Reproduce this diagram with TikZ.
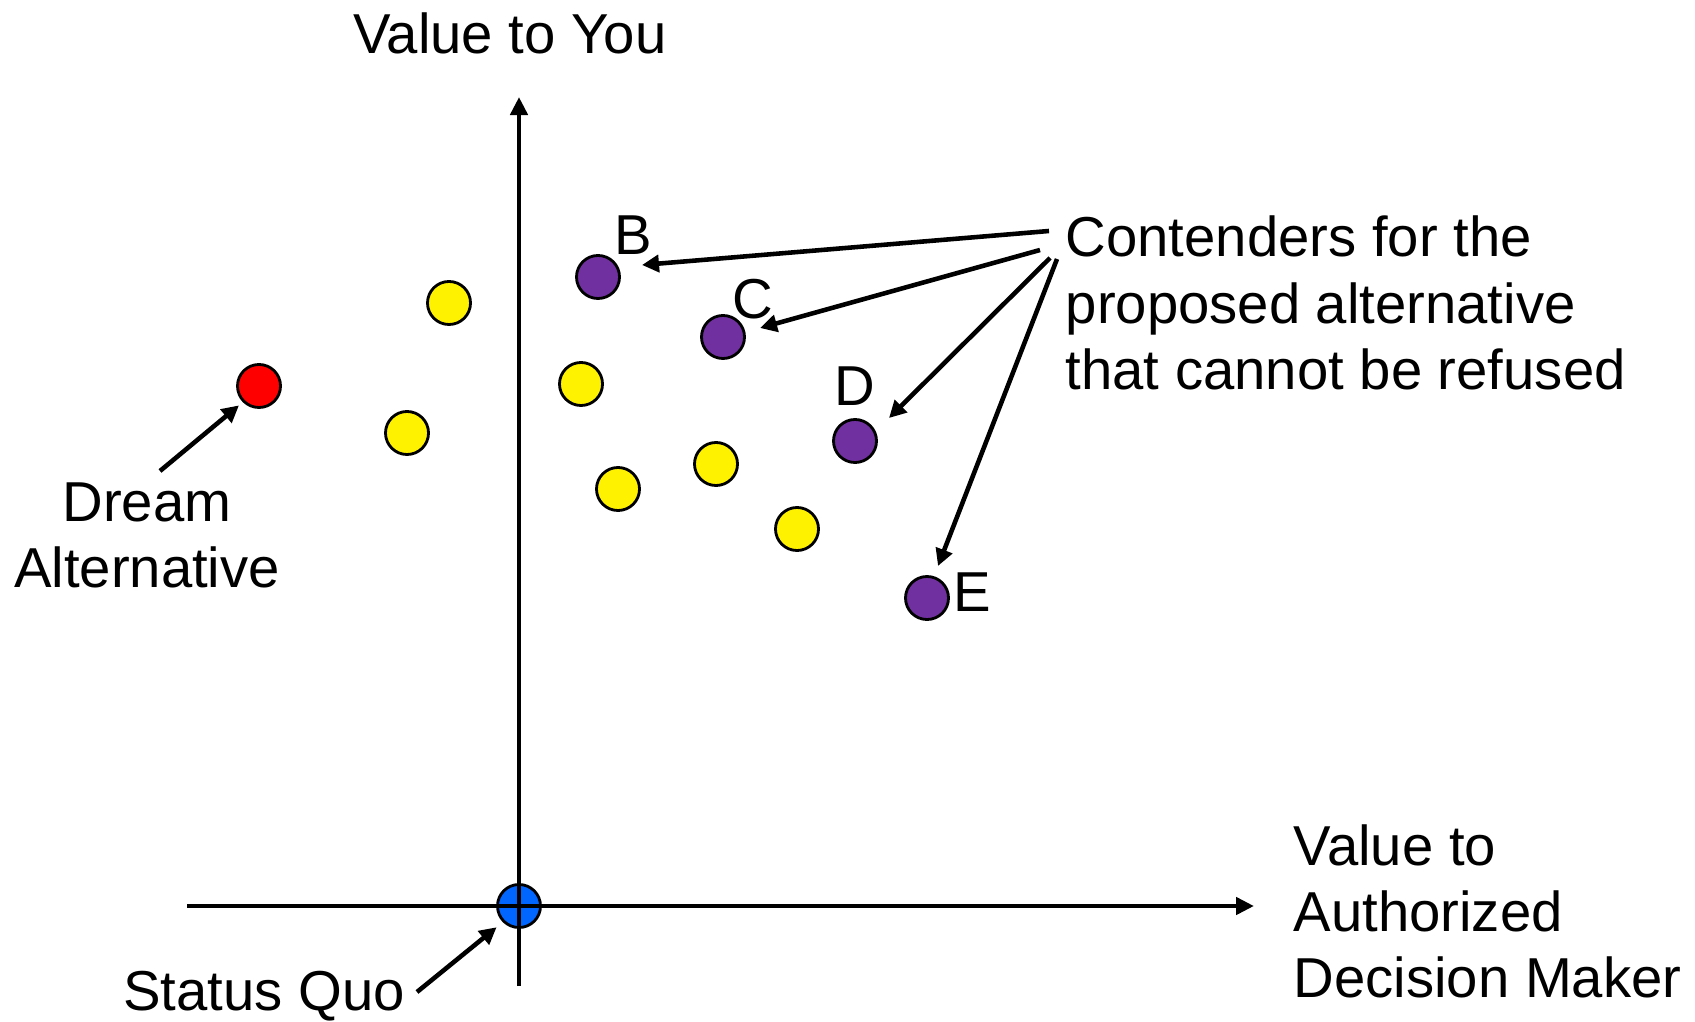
\documentclass[tikz,border=0pt]{standalone}
\usepackage{fontspec}
\setmainfont{Liberation Sans}
\usetikzlibrary{arrows.meta}

\definecolor{dotpurple}{RGB}{112,48,160}
\definecolor{dotblue}{RGB}{0,102,255}

\begin{document}
\begin{tikzpicture}[x=0.01cm, y=-0.01cm,
  dot/.style={circle, draw, line width=0.8pt, minimum size=0.43cm, inner sep=0pt},
  lbl/.style={inner sep=0pt, font=\fontsize{16}{18.8}\selectfont},
  ptr/.style={-{Triangle[length=0.17cm, width=0.17cm]}, line width=1.3pt},
  axis/.style={-{Triangle[length=0.18cm, width=0.17cm]}, line width=1.4pt}
]
  \useasboundingbox (0,0) rectangle (1695,1022);

  % status quo first, the axes run over it
  \node[dot, fill=dotblue] (sq) at (519,906) {};
  \coordinate (xl) at (187,906);
  \coordinate (xr) at (1254,906);
  \coordinate (yb) at (519,986);
  \coordinate (yt) at (519,97);
  \draw[axis] (xl) -- (xr);
  \draw[axis] (yb) -- (yt);

  % alternatives
  \node[dot, fill=red]       (dream) at (259,386) {};
  \node[dot, fill=yellow]    (y1) at (449,303) {};
  \node[dot, fill=yellow]    (y2) at (407,433) {};
  \node[dot, fill=yellow]    (y3) at (581,384) {};
  \node[dot, fill=yellow]    (y4) at (618,489) {};
  \node[dot, fill=yellow]    (y5) at (716,464) {};
  \node[dot, fill=yellow]    (y6) at (797,529) {};
  \node[dot, fill=dotpurple] (b) at (598,277) {};
  \node[dot, fill=dotpurple] (c) at (723,337) {};
  \node[dot, fill=dotpurple] (d) at (855,441) {};
  \node[dot, fill=dotpurple] (e) at (927,598) {};

  % letters
  \node[lbl] (lb) at (633,235) {B};
  \node[lbl] (lc) at (753,299) {C};
  \node[lbl] (ld) at (855,386) {D};
  \node[lbl] (le) at (972,592) {E};

  % texts
  \node[lbl] (ylab) at (510,33) {Value to You};
  \node[lbl, align=left, anchor=west] (xlab) at (1293,911)
    {Value to\\Authorized\\Decision Maker};
  \node[lbl, align=center] (dreamlab) at (147,535) {Dream\\Alternative};
  \node[lbl] (sqlab) at (264,996) {Status Quo};
  \node[lbl, align=left, anchor=west] (cont) at (1065,303)
    {Contenders for the\\proposed alternative\\that cannot be refused};

  % pointers
  \coordinate (dtail) at (160,471);
  \coordinate (stail) at (417,992);
  \draw[ptr, shorten >=0.05cm] (dtail) -- (dream.225);
  \draw[ptr, shorten >=0.08cm] (stail) -- (sq.225);

  \coordinate (tb) at (1049,231);
  \coordinate (tc) at (1040,250);
  \coordinate (td) at (1050,258);
  \coordinate (te) at (1057,259);
  \coordinate (hb) at (642,265);
  \coordinate (hc) at (760,328);
  \coordinate (hd) at (889,418);
  \coordinate (he) at (938,566);
  \draw[ptr] (tb) -- (hb);
  \draw[ptr] (tc) -- (hc);
  \draw[ptr] (td) -- (hd);
  \draw[ptr] (te) -- (he);
\end{tikzpicture}
\end{document}
